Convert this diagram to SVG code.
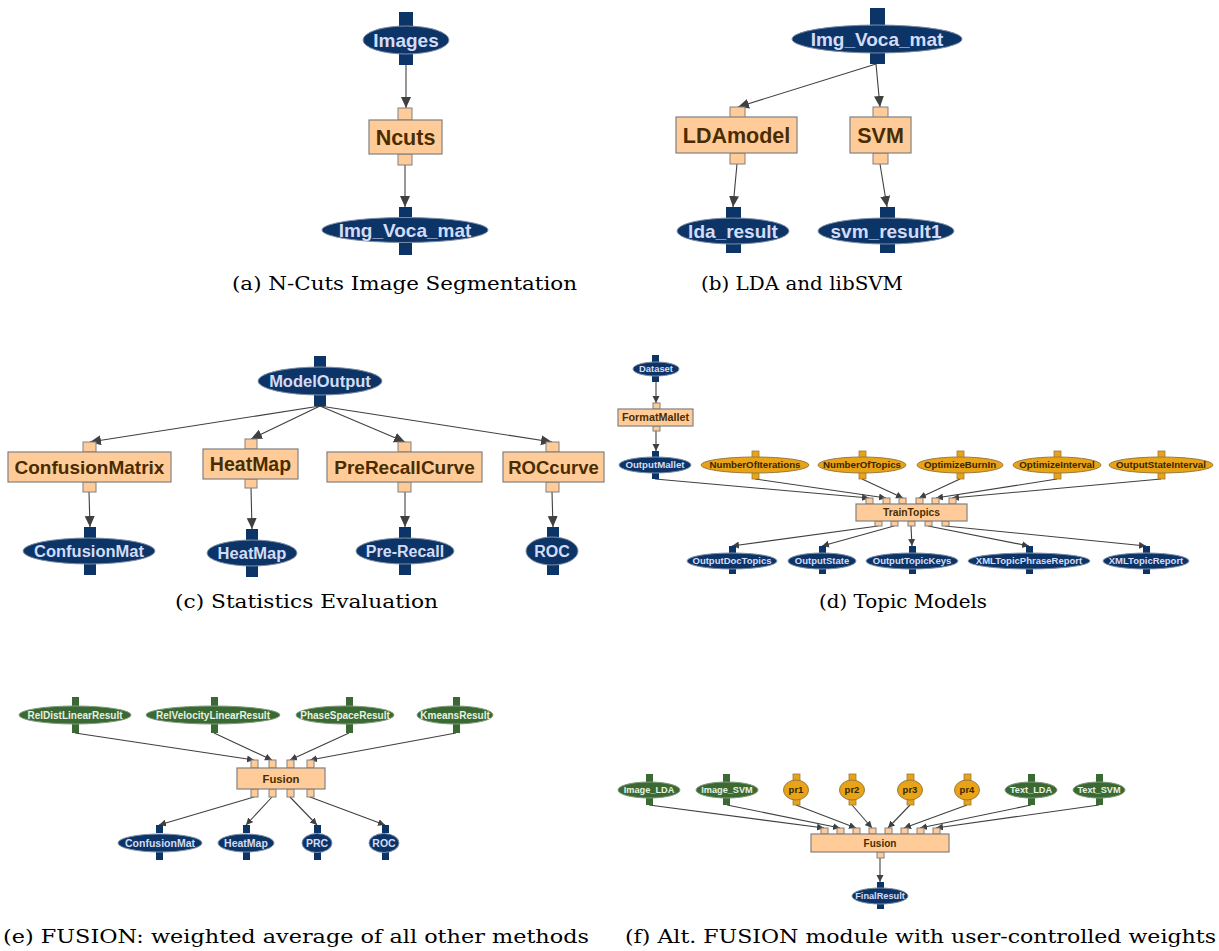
<svg xmlns="http://www.w3.org/2000/svg" width="1219" height="951" viewBox="0 0 1219 951">
<style>
.nv{fill:#0c3467;stroke:#7e8da6;stroke-width:1}
.np{fill:#0c3467}
.pk{fill:#ffcc99;stroke:#808080;stroke-width:1.2}
.pp{fill:#ffcc99;stroke:#808080;stroke-width:1}
.or{fill:#e8a317;stroke:#9a7a40;stroke-width:1}
.op{fill:#e8a317;stroke:#9a7a40;stroke-width:0.8}
.gr{fill:#3a6934;stroke:#7f9a78;stroke-width:1}
.gp{fill:#3a6934}
text{font-family:"Liberation Sans",Arial,sans-serif;font-weight:bold;text-anchor:middle}
.tl{fill:#d3dcf6}
.tg{fill:#e8f2e0}
.td{fill:#4a2c00}
.to{fill:#3a2600}
.cap{font-family:"DejaVu Serif","Liberation Serif",serif;font-weight:normal;font-size:18px;fill:#000;text-anchor:start}
.e{stroke:#404040;stroke-width:1.1;fill:none}
.eb{marker-end:url(#ab)}
.es{marker-end:url(#as)}
</style>
<defs>
<marker id="ab" markerUnits="userSpaceOnUse" markerWidth="14" markerHeight="12" refX="11" refY="5" orient="auto"><path d="M0,0 L11,5 L0,10 z" fill="#404040"/></marker>
<marker id="as" markerUnits="userSpaceOnUse" markerWidth="10" markerHeight="8" refX="7" refY="3.5" orient="auto"><path d="M0,0 L7,3.5 L0,7 z" fill="#404040"/></marker>
</defs>

<!-- connectors -->
<g id="connectors">
<g class="e eb">
<line x1="406" y1="65" x2="406" y2="108"/>
<line x1="405" y1="165" x2="405" y2="207"/>
<line x1="876" y1="64" x2="738" y2="107"/>
<line x1="876" y1="64" x2="880" y2="107"/>
<line x1="737" y1="164" x2="733" y2="207"/>
<line x1="880" y1="164" x2="887" y2="207"/>
<line x1="320" y1="406" x2="90" y2="442"/>
<line x1="320" y1="406" x2="251" y2="439"/>
<line x1="320" y1="406" x2="405" y2="442"/>
<line x1="320" y1="406" x2="552" y2="442"/>
<line x1="89" y1="492" x2="90" y2="527"/>
<line x1="251" y1="488" x2="252" y2="529"/>
<line x1="405" y1="492" x2="405" y2="527"/>
<line x1="552" y1="492" x2="553" y2="527"/>
</g>
<g class="e es">
<line x1="656" y1="382" x2="656" y2="403"/>
<line x1="656" y1="431" x2="656" y2="451"/>
<line x1="655" y1="479" x2="869" y2="498"/>
<line x1="755" y1="479" x2="886" y2="498"/>
<line x1="862" y1="479" x2="903" y2="498"/>
<line x1="960" y1="479" x2="919" y2="498"/>
<line x1="1057" y1="479" x2="936" y2="498"/>
<line x1="1161" y1="479" x2="952" y2="498"/>
<line x1="878" y1="526" x2="732" y2="546"/>
<line x1="894" y1="526" x2="822" y2="546"/>
<line x1="911" y1="526" x2="912" y2="546"/>
<line x1="928" y1="526" x2="1029" y2="546"/>
<line x1="945" y1="526" x2="1146" y2="546"/>
<line x1="75" y1="733" x2="254" y2="760"/>
<line x1="214" y1="733" x2="272" y2="760"/>
<line x1="349" y1="733" x2="290" y2="760"/>
<line x1="456" y1="733" x2="310" y2="760"/>
<line x1="254" y1="797" x2="159" y2="825"/>
<line x1="272" y1="797" x2="246" y2="825"/>
<line x1="290" y1="797" x2="317" y2="825"/>
<line x1="310" y1="797" x2="385" y2="825"/>
<line x1="649" y1="805" x2="824" y2="828"/>
<line x1="727" y1="805" x2="840" y2="828"/>
<line x1="796" y1="805" x2="856" y2="828"/>
<line x1="852" y1="805" x2="872" y2="828"/>
<line x1="910" y1="805" x2="888" y2="828"/>
<line x1="967" y1="805" x2="904" y2="828"/>
<line x1="1031" y1="805" x2="920" y2="828"/>
<line x1="1099" y1="805" x2="936" y2="828"/>
<line x1="880" y1="858" x2="880" y2="882"/>
</g>
</g>

<!-- (a) -->
<g id="a-images"><rect class="np" x="399" y="12" width="14" height="15"/><rect class="np" x="399" y="52" width="14" height="13"/><ellipse class="nv" cx="406" cy="40" rx="43" ry="14"/><text class="tl" x="406" y="40" dy=".36em" font-size="19">Images</text></g>
<g id="a-ncuts"><rect class="pp" x="398" y="108" width="14" height="12"/><rect class="pp" x="398" y="154" width="14" height="11"/><rect class="pk" x="369" y="120" width="73" height="34"/><text class="td" x="405.5" y="137" dy=".36em" font-size="21.5">Ncuts</text></g>
<g id="a-imgvoca"><rect class="np" x="399" y="207" width="13" height="12"/><rect class="np" x="399" y="241" width="13" height="14"/><ellipse class="nv" cx="405" cy="230" rx="83" ry="12.5"/><text class="tl" x="405" y="230" dy=".36em" font-size="19">Img_Voca_mat</text></g>
<text class="cap" x="232" y="290" textLength="345" lengthAdjust="spacingAndGlyphs">(a) N-Cuts Image Segmentation</text>

<!-- (b) -->
<g id="b-imgvoca"><rect class="np" x="870" y="8" width="15" height="17"/><rect class="np" x="870" y="51" width="15" height="13"/><ellipse class="nv" cx="877" cy="39" rx="85" ry="14"/><text class="tl" x="877" y="39" dy=".36em" font-size="19">Img_Voca_mat</text></g>
<g id="b-lda"><rect class="pp" x="730" y="107" width="15" height="11"/><rect class="pp" x="730" y="153" width="15" height="11"/><rect class="pk" x="676" y="117" width="121" height="36"/><text class="td" x="736.5" y="135" dy=".36em" font-size="21.5">LDAmodel</text></g>
<g id="b-svm"><rect class="pp" x="873" y="107" width="15" height="11"/><rect class="pp" x="873" y="153" width="15" height="11"/><rect class="pk" x="850" y="117" width="61" height="36"/><text class="td" x="880.5" y="135" dy=".36em" font-size="21.5">SVM</text></g>
<g id="b-ldares"><rect class="np" x="726" y="207" width="15" height="11"/><rect class="np" x="726" y="242" width="15" height="11"/><ellipse class="nv" cx="733" cy="231" rx="56" ry="13"/><text class="tl" x="733" y="231" dy=".36em" font-size="19">lda_result</text></g>
<g id="b-svmres"><rect class="np" x="880" y="207" width="15" height="11"/><rect class="np" x="880" y="242" width="15" height="11"/><ellipse class="nv" cx="886" cy="231" rx="68" ry="13"/><text class="tl" x="886" y="231" dy=".36em" font-size="19">svm_result1</text></g>
<text class="cap" x="701" y="290" textLength="202" lengthAdjust="spacingAndGlyphs">(b) LDA and libSVM</text>

<!-- (c) -->
<g id="c-modeloutput"><rect class="np" x="314" y="356" width="12" height="12"/><rect class="np" x="314" y="394" width="12" height="12"/><ellipse class="nv" cx="320" cy="381" rx="62" ry="14"/><text class="tl" x="320" y="381" dy=".36em" font-size="16.5">ModelOutput</text></g>
<g id="c-confmatrix"><rect class="pp" x="83" y="442" width="13" height="10"/><rect class="pp" x="83" y="482" width="13" height="10"/><rect class="pk" x="8" y="452" width="163" height="30"/><text class="td" x="89.5" y="467" dy=".36em" font-size="19">ConfusionMatrix</text></g>
<g id="c-heatmap"><rect class="pp" x="245" y="439" width="12" height="10"/><rect class="pp" x="245" y="479" width="12" height="9"/><rect class="pk" x="203" y="449" width="95" height="30"/><text class="td" x="250.5" y="464" dy=".36em" font-size="19.5">HeatMap</text></g>
<g id="c-prerecall"><rect class="pp" x="398" y="442" width="13" height="10"/><rect class="pp" x="398" y="482" width="13" height="10"/><rect class="pk" x="327" y="452" width="155" height="30"/><text class="td" x="404.5" y="467" dy=".36em" font-size="19">PreRecallCurve</text></g>
<g id="c-roccurve"><rect class="pp" x="546" y="442" width="13" height="10"/><rect class="pp" x="546" y="482" width="13" height="10"/><rect class="pk" x="503" y="452" width="101" height="30"/><text class="td" x="553.5" y="467" dy=".36em" font-size="18.5">ROCcurve</text></g>
<g id="c-confmat"><rect class="np" x="84" y="527" width="12" height="11"/><rect class="np" x="84" y="563" width="12" height="12"/><ellipse class="nv" cx="89" cy="551" rx="66" ry="13"/><text class="tl" x="89" y="551" dy=".36em" font-size="16.5">ConfusionMat</text></g>
<g id="c-heatmapout"><rect class="np" x="246" y="529" width="12" height="11"/><rect class="np" x="246" y="565" width="12" height="12"/><ellipse class="nv" cx="252" cy="553" rx="45" ry="13"/><text class="tl" x="252" y="553" dy=".36em" font-size="16.5">HeatMap</text></g>
<g id="c-prerecallout"><rect class="np" x="399" y="527" width="12" height="11"/><rect class="np" x="399" y="563" width="12" height="12"/><ellipse class="nv" cx="405" cy="551" rx="49" ry="13"/><text class="tl" x="405" y="551" dy=".36em" font-size="16">Pre-Recall</text></g>
<g id="c-roc"><rect class="np" x="547" y="527" width="12" height="11"/><rect class="np" x="547" y="563" width="12" height="12"/><ellipse class="nv" cx="552" cy="551" rx="26" ry="14"/><text class="tl" x="552" y="551" dy=".36em" font-size="16">ROC</text></g>
<text class="cap" x="175" y="608" textLength="263" lengthAdjust="spacingAndGlyphs">(c) Statistics Evaluation</text>

<!-- (d) -->
<g id="d-dataset"><rect class="np" x="652" y="355" width="7" height="8"/><rect class="np" x="652" y="375" width="7" height="7"/><ellipse class="nv" cx="656" cy="369" rx="23" ry="7"/><text class="tl" x="656" y="369" dy=".36em" font-size="9.4">Dataset</text></g>
<g id="d-formatmallet"><rect class="pp" x="653" y="403" width="7" height="6"/><rect class="pp" x="653" y="426" width="7" height="5"/><rect class="pk" x="618" y="409" width="75" height="17"/><text class="td" x="655.5" y="417.5" dy=".36em" font-size="10.8">FormatMallet</text></g>
<g id="d-outputmallet"><rect class="np" x="652" y="451" width="7" height="7"/><rect class="np" x="652" y="472" width="7" height="7"/><ellipse class="nv" cx="655" cy="465" rx="36" ry="8"/><text class="tl" x="655" y="465" dy=".36em" font-size="9.7">OutputMallet</text></g>
<g id="d-numiter"><rect class="op" x="752" y="451" width="7" height="7"/><rect class="op" x="752" y="472" width="7" height="7"/><ellipse class="or" cx="755" cy="465" rx="54" ry="8"/><text class="to" x="755" y="465" dy=".36em" font-size="9.7">NumberOfIterations</text></g>
<g id="d-numtopics"><rect class="op" x="859" y="451" width="7" height="7"/><rect class="op" x="859" y="472" width="7" height="7"/><ellipse class="or" cx="862" cy="465" rx="44" ry="8"/><text class="to" x="862" y="465" dy=".36em" font-size="9.7">NumberOfTopics</text></g>
<g id="d-optburnin"><rect class="op" x="957" y="451" width="7" height="7"/><rect class="op" x="957" y="472" width="7" height="7"/><ellipse class="or" cx="960" cy="465" rx="43" ry="8"/><text class="to" x="960" y="465" dy=".36em" font-size="9.7">OptimizeBurnIn</text></g>
<g id="d-optinterval"><rect class="op" x="1054" y="451" width="7" height="7"/><rect class="op" x="1054" y="472" width="7" height="7"/><ellipse class="or" cx="1057" cy="465" rx="44" ry="8"/><text class="to" x="1057" y="465" dy=".36em" font-size="9.7">OptimizeInterval</text></g>
<g id="d-outstateinterval"><rect class="op" x="1158" y="451" width="7" height="7"/><rect class="op" x="1158" y="472" width="7" height="7"/><ellipse class="or" cx="1161" cy="465" rx="52" ry="8"/><text class="to" x="1161" y="465" dy=".36em" font-size="9.7">OutputStateInterval</text></g>
<g id="d-traintopics">
<rect class="pp" x="866" y="498" width="7" height="6"/><rect class="pp" x="883" y="498" width="7" height="6"/><rect class="pp" x="899" y="498" width="7" height="6"/><rect class="pp" x="916" y="498" width="7" height="6"/><rect class="pp" x="932" y="498" width="7" height="6"/><rect class="pp" x="949" y="498" width="7" height="6"/>
<rect class="pp" x="875" y="521" width="7" height="5"/><rect class="pp" x="891" y="521" width="7" height="5"/><rect class="pp" x="908" y="521" width="7" height="5"/><rect class="pp" x="925" y="521" width="7" height="5"/><rect class="pp" x="942" y="521" width="7" height="5"/>
<rect class="pk" x="856" y="504" width="111" height="17"/><text class="td" x="911.5" y="512.5" dy=".36em" font-size="10.3">TrainTopics</text></g>
<g id="d-outdoctopics"><rect class="np" x="729" y="546" width="7" height="7"/><rect class="np" x="729" y="568" width="7" height="6"/><ellipse class="nv" cx="732" cy="561" rx="45" ry="8"/><text class="tl" x="732" y="561" dy=".36em" font-size="9.5">OutputDocTopics</text></g>
<g id="d-outstate"><rect class="np" x="819" y="546" width="7" height="7"/><rect class="np" x="819" y="568" width="7" height="6"/><ellipse class="nv" cx="822" cy="561" rx="34" ry="8"/><text class="tl" x="822" y="561" dy=".36em" font-size="9.5">OutputState</text></g>
<g id="d-outtopickeys"><rect class="np" x="909" y="546" width="7" height="7"/><rect class="np" x="909" y="568" width="7" height="6"/><ellipse class="nv" cx="912" cy="561" rx="46" ry="8"/><text class="tl" x="912" y="561" dy=".36em" font-size="9.5">OutputTopicKeys</text></g>
<g id="d-xmlphrase"><rect class="np" x="1026" y="546" width="7" height="7"/><rect class="np" x="1026" y="568" width="7" height="6"/><ellipse class="nv" cx="1029" cy="561" rx="61" ry="8"/><text class="tl" x="1029" y="561" dy=".36em" font-size="9.5">XMLTopicPhraseReport</text></g>
<g id="d-xmlreport"><rect class="np" x="1143" y="546" width="7" height="7"/><rect class="np" x="1143" y="568" width="7" height="6"/><ellipse class="nv" cx="1146" cy="561" rx="43" ry="8"/><text class="tl" x="1146" y="561" dy=".36em" font-size="9.5">XMLTopicReport</text></g>
<text class="cap" x="819" y="608" textLength="168" lengthAdjust="spacingAndGlyphs">(d) Topic Models</text>

<!-- (e) -->
<g id="e-reldist"><rect class="gp" x="72" y="697" width="7" height="10"/><rect class="gp" x="72" y="723" width="7" height="10"/><ellipse class="gr" cx="75" cy="715" rx="56" ry="9"/><text class="tg" x="75" y="715" dy=".36em" font-size="10">RelDistLinearResult</text></g>
<g id="e-relvel"><rect class="gp" x="211" y="697" width="7" height="10"/><rect class="gp" x="211" y="723" width="7" height="10"/><ellipse class="gr" cx="213" cy="715" rx="67" ry="9"/><text class="tg" x="213" y="715" dy=".36em" font-size="10">RelVelocityLinearResult</text></g>
<g id="e-phasespace"><rect class="gp" x="346" y="697" width="7" height="10"/><rect class="gp" x="346" y="723" width="7" height="10"/><ellipse class="gr" cx="345" cy="715" rx="49" ry="9"/><text class="tg" x="345" y="715" dy=".36em" font-size="10">PhaseSpaceResult</text></g>
<g id="e-kmeans"><rect class="gp" x="453" y="697" width="7" height="10"/><rect class="gp" x="453" y="723" width="7" height="10"/><ellipse class="gr" cx="455" cy="715" rx="38" ry="9"/><text class="tg" x="455" y="715" dy=".36em" font-size="10">KmeansResult</text></g>
<g id="e-fusion">
<rect class="pp" x="251" y="760" width="7" height="8"/><rect class="pp" x="269" y="760" width="7" height="8"/><rect class="pp" x="287" y="760" width="7" height="8"/><rect class="pp" x="307" y="760" width="7" height="8"/>
<rect class="pp" x="251" y="789" width="7" height="8"/><rect class="pp" x="269" y="789" width="7" height="8"/><rect class="pp" x="287" y="789" width="7" height="8"/><rect class="pp" x="307" y="789" width="7" height="8"/>
<rect class="pk" x="237" y="768" width="88" height="21"/><text class="td" x="281" y="778.5" dy=".36em" font-size="11.3">Fusion</text></g>
<g id="e-confmat"><rect class="np" x="156" y="825" width="7" height="8"/><rect class="np" x="156" y="851" width="7" height="9"/><ellipse class="nv" cx="160" cy="843" rx="42" ry="9"/><text class="tl" x="160" y="843" dy=".36em" font-size="10.5">ConfusionMat</text></g>
<g id="e-heatmap"><rect class="np" x="243" y="825" width="7" height="8"/><rect class="np" x="243" y="851" width="7" height="9"/><ellipse class="nv" cx="246" cy="843" rx="28" ry="9"/><text class="tl" x="246" y="843" dy=".36em" font-size="10.5">HeatMap</text></g>
<g id="e-prc"><rect class="np" x="314" y="825" width="7" height="8"/><rect class="np" x="314" y="851" width="7" height="9"/><ellipse class="nv" cx="317" cy="843" rx="15" ry="9.5"/><text class="tl" x="317" y="843" dy=".36em" font-size="10.5">PRC</text></g>
<g id="e-roc"><rect class="np" x="382" y="825" width="7" height="8"/><rect class="np" x="382" y="851" width="7" height="9"/><ellipse class="nv" cx="384" cy="843" rx="15" ry="9.5"/><text class="tl" x="384" y="843" dy=".36em" font-size="10.5">ROC</text></g>
<text class="cap" x="3" y="943" textLength="586" lengthAdjust="spacingAndGlyphs">(e) FUSION: weighted average of all other methods</text>

<!-- (f) -->
<g id="f-imagelda"><rect class="gp" x="646" y="774" width="7" height="9"/><rect class="gp" x="646" y="797" width="7" height="8"/><ellipse class="gr" cx="649" cy="790" rx="31" ry="8"/><text class="tg" x="649" y="790" dy=".36em" font-size="9.2">Image_LDA</text></g>
<g id="f-imagesvm"><rect class="gp" x="723" y="774" width="7" height="9"/><rect class="gp" x="723" y="797" width="7" height="8"/><ellipse class="gr" cx="727" cy="790" rx="31" ry="8"/><text class="tg" x="727" y="790" dy=".36em" font-size="9.2">Image_SVM</text></g>
<g id="f-pr1"><rect class="op" x="793" y="774" width="7" height="8"/><rect class="op" x="793" y="798" width="7" height="7"/><ellipse class="or" cx="796" cy="790" rx="12.5" ry="10"/><text class="to" x="796" y="790" dy=".36em" font-size="9.5">pr1</text></g>
<g id="f-pr2"><rect class="op" x="849" y="774" width="7" height="8"/><rect class="op" x="849" y="798" width="7" height="7"/><ellipse class="or" cx="852" cy="790" rx="12.5" ry="10"/><text class="to" x="852" y="790" dy=".36em" font-size="9.5">pr2</text></g>
<g id="f-pr3"><rect class="op" x="907" y="774" width="7" height="8"/><rect class="op" x="907" y="798" width="7" height="7"/><ellipse class="or" cx="910" cy="790" rx="12.5" ry="10"/><text class="to" x="910" y="790" dy=".36em" font-size="9.5">pr3</text></g>
<g id="f-pr4"><rect class="op" x="964" y="774" width="7" height="8"/><rect class="op" x="964" y="798" width="7" height="7"/><ellipse class="or" cx="967" cy="790" rx="12.5" ry="10"/><text class="to" x="967" y="790" dy=".36em" font-size="9.5">pr4</text></g>
<g id="f-textlda"><rect class="gp" x="1028" y="774" width="7" height="9"/><rect class="gp" x="1028" y="797" width="7" height="8"/><ellipse class="gr" cx="1031" cy="790" rx="26" ry="8"/><text class="tg" x="1031" y="790" dy=".36em" font-size="9.2">Text_LDA</text></g>
<g id="f-textsvm"><rect class="gp" x="1096" y="774" width="7" height="9"/><rect class="gp" x="1096" y="797" width="7" height="8"/><ellipse class="gr" cx="1099" cy="790" rx="26" ry="8"/><text class="tg" x="1099" y="790" dy=".36em" font-size="9.2">Text_SVM</text></g>
<g id="f-fusion">
<rect class="pp" x="821" y="828" width="7" height="6"/><rect class="pp" x="837" y="828" width="7" height="6"/><rect class="pp" x="853" y="828" width="7" height="6"/><rect class="pp" x="869" y="828" width="7" height="6"/><rect class="pp" x="885" y="828" width="7" height="6"/><rect class="pp" x="901" y="828" width="7" height="6"/><rect class="pp" x="917" y="828" width="7" height="6"/><rect class="pp" x="933" y="828" width="7" height="6"/>
<rect class="pp" x="877" y="852" width="7" height="6"/>
<rect class="pk" x="811" y="834" width="138" height="18"/><text class="td" x="880" y="843" dy=".36em" font-size="10">Fusion</text></g>
<g id="f-finalresult"><rect class="np" x="877" y="882" width="7" height="7"/><rect class="np" x="877" y="903" width="7" height="6"/><ellipse class="nv" cx="880" cy="896" rx="28" ry="8"/><text class="tl" x="880" y="896" dy=".36em" font-size="9.2">FinalResult</text></g>
<text class="cap" x="625" y="943" textLength="591" lengthAdjust="spacingAndGlyphs">(f) Alt. FUSION module with user-controlled weights</text>
</svg>
